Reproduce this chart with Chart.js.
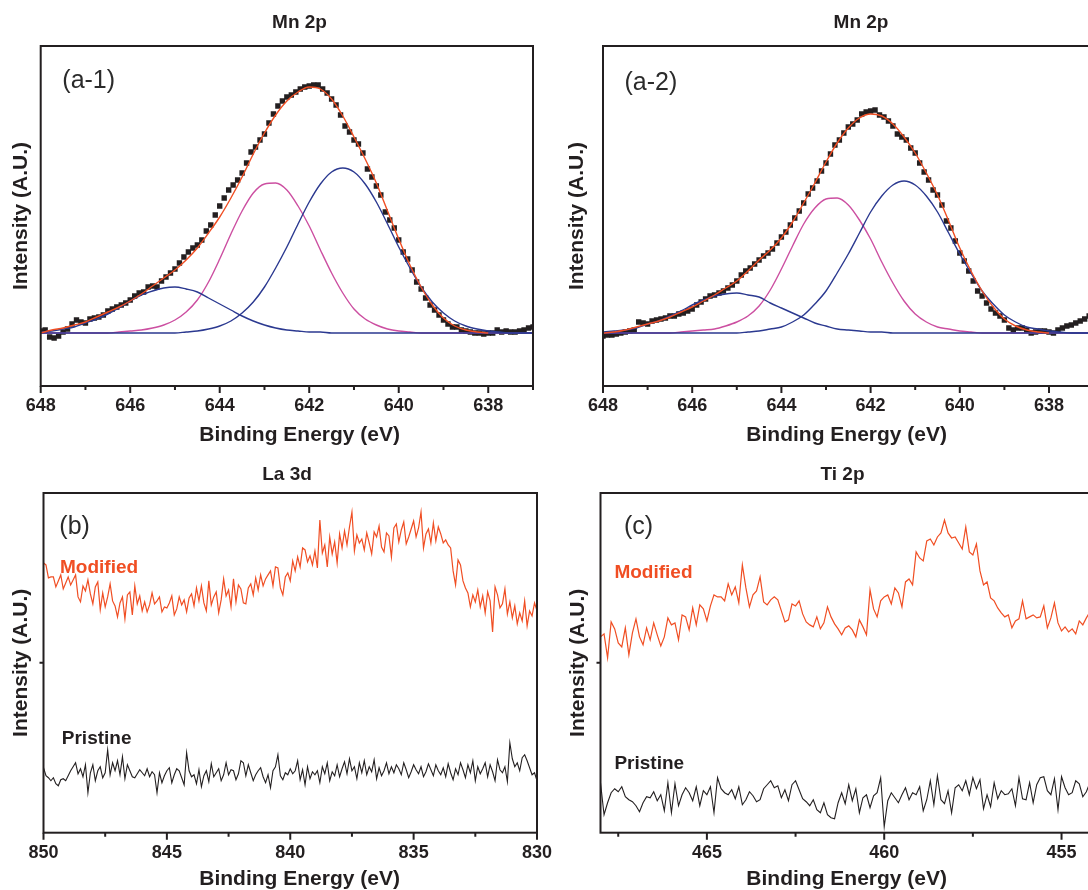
<!DOCTYPE html>
<html>
<head>
<meta charset="utf-8">
<script src="https://cdn.jsdelivr.net/npm/chart.js@4.4.1/dist/chart.umd.min.js"></script>
<style>
html, body {margin: 0; padding: 0; width: 1088px; height: 890px; overflow: hidden; background: #fff;}
canvas {position: absolute;}
</style>
</head>
<body>
<canvas id="a1" width="599" height="460" style="left:0px;top:0px"></canvas>
<canvas id="a2" width="602" height="460" style="left:560px;top:0px"></canvas>
<canvas id="b" width="574" height="460" style="left:0px;top:445px"></canvas>
<canvas id="c" width="597" height="460" style="left:544px;top:445px"></canvas>
<script>
// energy grids (binding energy, eV, high -> low)
function steps (start, step, count) {
    let out = []
    for (let i = 0; i < count; i++) out.push(Math.round((start - i * step) * 100) / 100)
    return out
}
let a_fit_energy = steps(648, 0.25, 45)
let a_point_energy = steps(648, 0.1, 111)
let b_energy = steps(850, 0.1, 201)
let c_energy = steps(468, 0.1, 141)

let a_ticks = [648, 646, 644, 642, 640, 638]
let a_minor = [647, 645, 643, 641, 639, 637]
let b_ticks = [850, 845, 840, 835, 830]
let b_minor = [847.5, 842.5, 837.5, 832.5]
let c_ticks = [465, 460, 455]
let c_minor = [467.5, 462.5, 457.5]

// (a-1) Mn 2p
let a1_points = [
    2, 3, -4, -5, -3, 1, 4, 9, 13, 11,
    10, 14, 15, 16, 18, 22, 24, 26, 28, 30,
    33, 37, 40, 41, 46, 47, 46, 52, 56, 60,
    64, 70, 76, 81, 85, 88, 93, 102, 108, 118,
    127, 135, 143, 148, 153, 160, 170, 181, 186, 193,
    199, 210, 219, 227, 232, 236, 238, 241, 244, 246,
    247, 248, 248, 244, 240, 234, 228, 218, 207, 201,
    193, 189, 180, 164, 156, 147, 138, 121, 113, 105,
    93, 81, 74, 63, 51, 44, 35, 28, 23, 18,
    13, 9, 6, 6, 3, 2, 1, 0, 0, -1,
    0, 0, 3, 1, 2, 1, 1, 2, 3, 5,
    6
]
let a1_fit_total = [0, 3, 5, 8, 11, 16, 21, 26, 32, 39, 47, 55, 63, 73, 85, 100, 116, 135, 156, 179, 200, 218, 232, 241, 246, 244, 234, 217, 196, 174, 150, 122, 94, 68, 46, 28, 15, 7, 3, 1, 0, null, null, null, null]
let a1_fit_641 = [0, 0, 0, 0, 0, 0, 0, 0, 0, 0, 0, 0, 0, 1, 2, 4, 7, 12, 20, 31, 46, 65, 86, 109, 131, 149, 161, 165, 161, 149, 131, 109, 86, 65, 46, 31, 20, 12, 7, 4, 2, 1, 0, 0, 0]
let a1_fit_643 = [0, 0, 0, 0, 0, 0, 0, 1, 2, 3, 5, 8, 13, 21, 33, 51, 74, 99, 122, 140, 149, 150, 143, 127, 107, 83, 60, 40, 24, 14, 8, 4, 2, 1, 0, 0, 0, 0, 0, 0, 0, 0, 0, 0, 0]
let a1_fit_645 = [1, 2, 4, 6, 10, 14, 19, 25, 32, 38, 42, 45, 46, 44, 41, 35, 29, 23, 17, 12, 8, 5, 3, 2, 1, 1, 0, 0, 0, 0, 0, 0, 0, 0, 0, 0, 0, 0, 0, 0, 0, 0, 0, 0, 0]

// (a-2) Mn 2p
let a2_points = [
    -3, -2, -2, -1, 0, 1, 2, 3, 11, 10,
    9, 12, 13, 14, 15, 17, 17, 19, 20, 22,
    24, 28, 31, 34, 37, 38, 40, 42, 45, 48,
    52, 58, 62, 65, 69, 73, 77, 80, 84, 90,
    96, 101, 108, 115, 122, 130, 139, 145, 152, 162,
    170, 179, 188, 193, 200, 206, 209, 213, 219, 221,
    222, 223, 218, 216, 212, 207, 199, 196, 193, 185,
    180, 170, 161, 153, 143, 138, 128, 112, 105, 92,
    80, 72, 62, 52, 42, 37, 30, 24, 20, 17,
    13, 5, 3, 5, 5, 3, 0, 1, 2, 2,
    1, 0, 3, 5, 7, 8, 10, 12, 14, 17,
    19
]
let a2_fit_total = [0, 1, 3, 6, 9, 12, 16, 21, 26, 32, 38, 45, 52, 62, 73, 83, 95, 111, 130, 150, 171, 190, 205, 215, 219, 217, 209, 196, 180, 160, 138, 112, 85, 62, 42, 26, 14, 7, 3, 1, 0, null, null, null, null]
let a2_fit_641 = [0, 0, 0, 0, 0, 0, 0, 0, 0, 0, 0, 0, 0, 1, 2, 4, 6, 11, 18, 29, 42, 60, 79, 100, 121, 137, 148, 152, 148, 137, 121, 100, 79, 60, 42, 29, 18, 11, 6, 4, 2, 1, 0, 0, 0]
let a2_fit_643 = [0, 0, 0, 0, 0, 0, 0, 1, 2, 3, 4, 7, 11, 17, 27, 43, 64, 87, 109, 125, 134, 135, 128, 113, 94, 71, 50, 32, 19, 11, 6, 4, 2, 1, 0, 0, 0, 0, 0, 0, 0, 0, 0, 0, 0]
let a2_fit_645 = [1, 2, 3, 5, 9, 12, 17, 22, 28, 33, 37, 39, 40, 38, 36, 30, 25, 20, 15, 10, 7, 4, 3, 2, 1, 1, 0, 0, 0, 0, 0, 0, 0, 0, 0, 0, 0, 0, 0, 0, 0, 0, 0, 0, 0]

// (b) La 3d
let b_modified = [
    270, 268, 255, 256, 256, 246, 252, 258, 244, 250,
    256, 248, 253, 258, 236, 231, 247, 242, 253, 239,
    229, 246, 251, 223, 240, 226, 236, 249, 232, 227,
    216, 230, 236, 214, 238, 241, 218, 247, 229, 237,
    222, 231, 221, 228, 240, 229, 232, 236, 221, 226,
    225, 230, 237, 218, 224, 236, 228, 233, 221, 235,
    239, 227, 245, 232, 247, 230, 222, 252, 228, 236,
    241, 220, 233, 254, 237, 243, 226, 254, 231, 248,
    244, 230, 229, 245, 249, 238, 255, 243, 258, 247,
    254, 258, 262, 247, 266, 265, 245, 238, 256, 260,
    252, 272, 262, 276, 266, 285, 283, 271, 277, 268,
    282, 265, 313, 280, 288, 266, 296, 279, 291, 270,
    299, 285, 302, 288, 306, 321, 282, 298, 290, 294,
    283, 300, 290, 279, 301, 296, 307, 286, 281, 300,
    297, 276, 305, 309, 291, 303, 311, 289, 296, 304,
    312, 296, 305, 321, 285, 299, 304, 290, 310, 292,
    306, 299, 290, 293, 288, 285, 262, 248, 273, 268,
    252, 245, 240, 226, 238, 231, 243, 226, 237, 220,
    241, 232, 201, 246, 238, 225, 229, 244, 219, 231,
    215, 227, 209, 220, 212, 232, 207, 222, 217, 230,
    222
]
let b_pristine = [
    65, 57, 55, 52, 55, 49, 47, 53, 54, 52,
    57, 62, 66, 70, 59, 64, 56, 68, 40, 60,
    68, 52, 62, 66, 55, 60, 83, 58, 70, 62,
    72, 58, 76, 54, 68, 62, 56, 55, 59, 63,
    60, 57, 64, 56, 61, 58, 40, 60, 50, 57,
    62, 65, 50, 58, 64, 62, 55, 48, 80, 62,
    56, 58, 49, 63, 46, 57, 62, 51, 69, 56,
    60, 64, 52, 58, 70, 58, 63, 62, 53, 59,
    72, 70, 57, 68, 60, 52, 58, 62, 65, 56,
    50, 58, 45, 62, 66, 78, 57, 53, 60, 58,
    64, 59, 62, 72, 53, 63, 48, 66, 54, 61,
    58, 62, 50, 66, 59, 70, 52, 61, 57, 68,
    56, 64, 71, 59, 74, 62, 66, 54, 70, 60,
    72, 58, 66, 61, 73, 54, 65, 57, 62, 70,
    59, 66, 60, 68, 64, 58, 70, 63, 55, 61,
    68, 63, 59, 66, 56, 61, 69, 63, 57, 68,
    62, 58, 65, 56, 69, 60, 53, 64, 58, 70,
    63, 55, 68, 60, 72, 52, 66, 59, 64, 70,
    56, 68, 61, 52, 73, 63, 60, 66, 51, 90,
    74, 66, 70, 62, 75, 78, 72, 65, 58, 60,
    52
]

// (c) Ti 2p
let c_modified = [
    196, 199, 175, 211, 204, 190, 186, 205, 178, 200,
    214, 196, 188, 205, 193, 210, 198, 187, 196, 215,
    208, 210, 193, 218, 216, 203, 225, 208, 228, 224,
    212, 227, 238, 236, 236, 232, 249, 238, 246, 230,
    268, 245, 226, 238, 242, 256, 231, 228, 233, 236,
    233, 222, 211, 213, 229, 227, 232, 219, 211, 208,
    206, 216, 204, 210, 226, 216, 209, 204, 198, 205,
    207, 203, 196, 213, 206, 198, 243, 224, 216, 232,
    236, 238, 229, 245, 240, 226, 251, 254, 248, 281,
    275, 272, 292, 294, 288, 296, 300, 313, 300, 295,
    296, 290, 284, 306, 281, 278, 289, 262, 248, 251,
    235, 232, 225, 220, 216, 218, 205, 212, 214, 232,
    214, 216, 218, 215, 216, 227, 205, 215, 230, 210,
    202, 206, 201, 204, 199, 212, 208, 215, 221, 210,
    218
]
let c_pristine = [
    50, 18, 30, 40, 44, 41, 46, 36, 33, 31,
    27, 21, 30, 36, 35, 41, 32, 38, 22, 50,
    20, 49, 27, 38, 45, 40, 32, 46, 27, 42,
    38, 46, 20, 55, 44, 40, 38, 43, 34, 46,
    28, 33, 41, 37, 31, 33, 44, 48, 52, 45,
    47, 35, 43, 32, 48, 52, 43, 34, 31, 27,
    33, 23, 20, 30, 18, 15, 14, 30, 40, 29,
    48, 32, 44, 20, 35, 38, 25, 37, 40, 55,
    6, 32, 40, 35, 30, 38, 45, 33, 40, 38,
    46, 22, 33, 52, 28, 57, 33, 29, 42, 20,
    45, 48, 42, 52, 38, 55, 44, 53, 24, 38,
    26, 50, 34, 42, 38, 39, 44, 27, 55, 34,
    33, 50, 30, 48, 55, 56, 42, 38, 54, 23,
    56, 45, 38, 40, 52, 49, 36, 41, 50, 45,
    44
]

let ink = "#231f20"
let orange = "#f04e23"
let navy = "#2b3990"
let pink = "#cc4fa1"
let family = '"Liberation Sans", Arial, Helvetica, sans-serif'
Chart.defaults.font.family = family
Chart.defaults.color = ink

function pairs (xs, ys) {
    return ys.map((y, i) => ({x: xs[i], y: y}))
}
function fit_line (xs, ys, color) {
    return {data: pairs(xs, ys), borderColor: color, borderWidth: 1.4, pointRadius: 0, cubicInterpolationMode: "monotone", fill: false}
}
function noisy_line (xs, ys, color, w) {
    return {data: pairs(xs, ys), borderColor: color, borderWidth: w, pointRadius: 0, tension: 0, fill: false}
}
function squares (xs, ys) {
    return {data: pairs(xs, ys), showLine: false, pointStyle: "rect", pointRadius: 3.8, pointBackgroundColor: ink, pointBorderWidth: 0}
}

// box, ticks outside the bottom axis, notes and x title
let frame_plugin = {
    id: "frame",
    afterDraw (chart, args, opts) {
        let ctx = chart.ctx
        let area = chart.chartArea
        let xs = chart.scales.x
        let ys = chart.scales.y
        ctx.save()
        ctx.strokeStyle = ink
        ctx.lineWidth = 2
        ctx.strokeRect(area.left, area.top, area.right - area.left, area.bottom - area.top)
        ctx.beginPath()
        for (let v of opts.major) {
            let px = xs.getPixelForValue(v)
            ctx.moveTo(px, area.bottom)
            ctx.lineTo(px, area.bottom + 7)
        }
        for (let v of opts.minor) {
            let px = xs.getPixelForValue(v)
            ctx.moveTo(px, area.bottom)
            ctx.lineTo(px, area.bottom + 4)
        }
        for (let v of opts.y_ticks) {
            let py = ys.getPixelForValue(v)
            ctx.moveTo(area.left, py)
            ctx.lineTo(area.left - 4, py)
        }
        ctx.stroke()
        ctx.textAlign = "left"
        ctx.textBaseline = "alphabetic"
        for (let note of opts.notes) {
            ctx.font = note.font
            ctx.fillStyle = note.color
            ctx.fillText(note.text, note.x, note.y)
        }
        ctx.textAlign = "center"
        ctx.textBaseline = "middle"
        ctx.font = "bold 21px " + family
        ctx.fillStyle = ink
        ctx.fillText("Binding Energy (eV)", opts.x_title[0], opts.x_title[1])
        ctx.restore()
    }
}

function make_panel (config) {
    let canvas = document.getElementById(config.id)
    let width = canvas.width
    let height = canvas.height
    let area = config.area
    return new Chart(canvas, {
        type: "line",
        data: {datasets: config.datasets},
        options: {
            responsive: false,
            animation: false,
            events: [],
            layout: {padding: 0},
            plugins: {
                legend: {display: false},
                tooltip: {enabled: false},
                title: {
                    display: true, text: config.title, color: ink,
                    font: {size: 19, weight: "bold"},
                    padding: {top: config.title_top, bottom: area.top - config.title_top - 22.8}
                },
                frame: {
                    major: config.ticks, minor: config.minor, y_ticks: config.y_ticks,
                    notes: config.notes, x_title: config.x_title
                }
            },
            scales: {
                x: {
                    type: "linear", reverse: true,
                    min: config.x_range[1], max: config.x_range[0],
                    afterFit: (s) => { s.height = height - area.bottom },
                    afterBuildTicks: (s) => { s.ticks = config.ticks.map(v => ({value: v})) },
                    grid: {display: false, drawTicks: false},
                    border: {display: false},
                    ticks: {padding: 9.2, color: ink, font: {size: 18, weight: "bold"}, maxRotation: 0, autoSkip: false}
                },
                y: {
                    type: "linear", min: config.y_range[0], max: config.y_range[1],
                    afterFit: (s) => { s.width = area.left },
                    grid: {display: false, drawTicks: false},
                    border: {display: false},
                    ticks: {display: false},
                    title: {
                        display: true, text: "Intensity (A.U.)", color: ink,
                        font: {size: 21, weight: "bold"},
                        padding: {top: config.y_title_pad, bottom: 0}
                    }
                },
                side: {
                    type: "linear", position: "right",
                    afterFit: (s) => { s.width = width - area.right },
                    grid: {display: false, drawTicks: false},
                    border: {display: false},
                    ticks: {display: false}
                }
            }
        },
        plugins: [frame_plugin]
    })
}

let label_font = "25px " + family
let tag_font = "bold 19px " + family

make_panel({
    id: "a1", title: "Mn 2p", title_top: 11.3,
    area: {left: 40.7, top: 46, right: 533, bottom: 386},
    x_range: [648, 637], y_range: [-53, 287],
    ticks: a_ticks, minor: a_minor, y_ticks: [],
    y_title_pad: 8.9, x_title: [299.7, 435],
    notes: [{text: "(a-1)", x: 62.3, y: 88, font: label_font, color: "#2b2b2b"}],
    datasets: [
        fit_line(a_fit_energy, a1_fit_total, orange),
        fit_line(a_fit_energy, a1_fit_641, navy),
        fit_line(a_fit_energy, a1_fit_645, navy),
        fit_line(a_fit_energy, a1_fit_643, pink),
        squares(a_point_energy, a1_points)
    ]
})

make_panel({
    id: "a2", title: "Mn 2p", title_top: 11.3,
    area: {left: 43, top: 46, right: 533.6, bottom: 386},
    x_range: [648, 637], y_range: [-53, 287],
    ticks: a_ticks, minor: a_minor, y_ticks: [],
    y_title_pad: 4.9, x_title: [286.7, 435],
    notes: [{text: "(a-2)", x: 64.5, y: 90, font: label_font, color: "#2b2b2b"}],
    datasets: [
        fit_line(a_fit_energy, a2_fit_total, orange),
        fit_line(a_fit_energy, a2_fit_641, navy),
        fit_line(a_fit_energy, a2_fit_645, navy),
        fit_line(a_fit_energy, a2_fit_643, pink),
        squares(a_point_energy, a2_points)
    ]
})

make_panel({
    id: "b", title: "La 3d", title_top: 18.6,
    area: {left: 43.5, top: 48, right: 537, bottom: 387.7},
    x_range: [850, 830], y_range: [0, 340],
    ticks: b_ticks, minor: b_minor, y_ticks: [170],
    y_title_pad: 8.9, x_title: [299.6, 434],
    notes: [
        {text: "(b)", x: 59.3, y: 89, font: label_font, color: "#2b2b2b"},
        {text: "Modified", x: 60, y: 127.7, font: tag_font, color: orange},
        {text: "Pristine", x: 61.8, y: 299.3, font: tag_font, color: ink}
    ],
    datasets: [
        noisy_line(b_energy, b_modified, orange, 1.2),
        noisy_line(b_energy, b_pristine, ink, 1.1)
    ]
})

make_panel({
    id: "c", title: "Ti 2p", title_top: 18.6,
    area: {left: 56.5, top: 48, right: 553, bottom: 387.7},
    x_range: [468, 454], y_range: [0, 340],
    ticks: c_ticks, minor: c_minor, y_ticks: [170],
    y_title_pad: 21.4, x_title: [302.7, 434],
    notes: [
        {text: "(c)", x: 80, y: 89, font: label_font, color: "#2b2b2b"},
        {text: "Modified", x: 70.4, y: 133.3, font: tag_font, color: orange},
        {text: "Pristine", x: 70.4, y: 324, font: tag_font, color: ink}
    ],
    datasets: [
        noisy_line(c_energy, c_modified, orange, 1.2),
        noisy_line(c_energy, c_pristine, ink, 1.1)
    ]
})
</script>
</body>
</html>
